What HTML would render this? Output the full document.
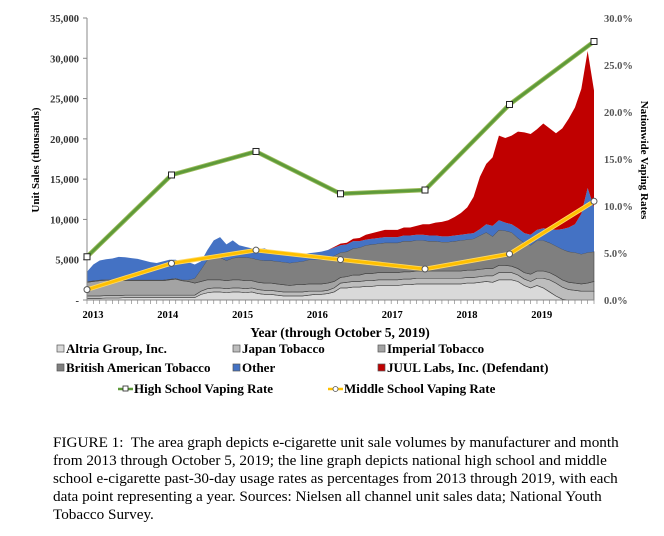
<!DOCTYPE html>
<html><head><meta charset="utf-8">
<style>
body{margin:0;background:#fff;width:664px;height:536px;overflow:hidden;font-family:"Liberation Serif",serif;}
svg text{font-family:"Liberation Serif",serif;}
.cap{position:absolute;left:53px;top:434px;width:620px;font-size:15.2px;line-height:18px;color:#000;white-space:nowrap;}
</style></head><body>
<svg width="664" height="536" style="position:absolute;left:0;top:0">
<g id="areas"></g>
<g id="axes"></g>
<g id="lines"></g>
<g id="legend"></g>
</svg>
<div class="cap">FIGURE 1:&nbsp; The area graph depicts e-cigarette unit sale volumes by manufacturer and month<br>from 2013 through October 5, 2019; the line graph depicts national high school and middle<br>school e-cigarette past-30-day usage rates as percentages from 2013 through 2019, with each<br>data point representing a year. Sources: Nielsen all channel unit sales data; National Youth<br>Tobacco Survey.</div>
<script>
const seriesNames=["Altria Group, Inc.","Japan Tobacco","Imperial Tobacco","British American Tobacco","Other","JUUL Labs, Inc. (Defendant)"];
const altria=[200,200,200,250,250,250,300,300,300,300,300,300, 300,300,300,300,300,300,700,900,1000,1000,900,1000, 1000,900,1000,800,700,700,600,500,500,500,500,600, 700,700,800,1000,1500,1500,1600,1600,1700,1700,1800,1800, 1800,1800,1900,1900,2000,2000,2000,2000,2000,2000,2000,2000, 2100,2100,2200,2300,2200,2500,2500,2500,2300,1800,1500,1800, 1500,1000,500,100,0,0,0,0,0];
const japan=[300,300,300,300,300,300,300,300,300,300,300,300, 300,300,300,300,300,300,400,500,500,500,500,500, 500,500,500,500,500,500,500,500,500,500,500,500, 400,400,400,500,600,700,700,700,700,700,700,700, 700,700,700,700,700,700,700,700,700,700,700,700, 700,700,700,700,800,900,900,900,800,800,800,900, 1200,1500,1600,1500,1300,1200,1100,1100,1100];
const imperial=[1700,1800,1900,1900,1900,1900,1800,1800,1800,1800,1800,1800, 1800,1900,2000,1800,1700,1500,1200,1100,1000,1000,1000,1000, 1000,1000,900,900,900,900,900,900,800,900,900,900, 900,900,900,800,700,700,800,800,900,900,900,900, 900,900,900,900,900,900,900,900,900,900,900,900, 900,900,900,900,900,900,900,800,800,800,900,900, 900,900,900,900,900,900,900,1000,1200];
const bat=[100,100,100,100,100,100,100,100,100,100,100,100, 100,100,100,100,200,600,1500,2500,3000,2800,2500,2700, 2800,2900,2800,2800,2800,2800,2800,2800,2800,2800,2900,3000, 3000,3000,3100,3200,3100,3100,3300,3400,3500,3600,3600,3700, 3700,3700,3800,3800,3800,3800,3700,3700,3600,3600,3700,3800, 3800,3900,4200,4500,4000,4400,4300,4200,3800,3700,3600,3800, 3800,3700,3700,3800,3800,3800,3700,3800,3700];
const other=[1200,2000,2400,2500,2600,2800,2800,2700,2600,2400,2200,2100, 2300,2400,2300,2200,2200,1700,1000,1200,1900,2500,2000,2200, 1500,1300,1200,1300,1500,1200,1000,900,1000,1000,900,800, 900,1000,1000,1000,900,900,900,800,700,700,700,700, 700,700,700,700,700,700,700,700,700,700,700,700, 700,700,800,1000,1300,1200,1000,1000,1200,1200,1300,1300, 1500,1700,2000,2500,3000,3500,5000,8000,5500];
const juul=[0,0,0,0,0,0,0,0,0,0,0,0, 0,0,0,0,0,0,0,0,0,0,0,0, 0,0,0,0,0,0,0,0,0,0,0,0, 0,0,0,100,200,200,300,400,600,700,800,900, 900,900,1000,1000,1100,1300,1400,1600,1800,2000,2300,2700, 3300,4500,6500,7500,8500,10500,10500,11000,12000,12500,12500,12500, 13000,12500,12000,12500,13500,14500,15500,17000,14500];
const rateYears=[2013,2014,2015,2016,2017,2018,2019];
const highSchool=[4.6,13.3,15.8,11.3,11.7,20.8,27.5];
const middleSchool=[1.1,3.9,5.3,4.3,3.3,4.9,10.5];
const leftTicks=["-","5,000","10,000","15,000","20,000","25,000","30,000","35,000"];
const rightTicks=["0.0%","5.0%","10.0%","15.0%","20.0%","25.0%","30.0%"];
const yearLabels=["2013","2014","2015","2016","2017","2018","2019"];

const NS="http://www.w3.org/2000/svg";
const X0=87,X1=594,Y0=300,Y1=18;
const nM=altria.length;
const xm=i=>X0+i*(X1-X0)/(nM-1);
const yv=v=>Y0-(v/35000)*(Y0-Y1);
const yp=p=>Y0-(p/30)*(Y0-Y1);
const xr=i=>X0+i*(X1-X0)/(rateYears.length-1);
function mk(t,a,p){const e=document.createElementNS(NS,t);for(const k in a)e.setAttribute(k,a[k]);p.appendChild(e);return e;}

const layers=[altria,japan,imperial,bat,other,juul];
const colors=["#d9d9d9","#bdbdbd","#a3a3a3","#7f7f7f","#4472c4","#c00000"];
const names=["area-altria","area-japan-tobacco","area-imperial","area-bat","area-other","area-juul"];
const areas=document.getElementById('areas');
let base=new Array(nM).fill(0);
layers.forEach((L,k)=>{
  const top=base.map((b,i)=>b+L[i]);
  let d="M"+xm(0)+","+yv(top[0]);
  for(let i=1;i<nM;i++)d+="L"+xm(i).toFixed(2)+","+yv(top[i]).toFixed(2);
  for(let i=nM-1;i>=0;i--)d+="L"+xm(i).toFixed(2)+","+yv(base[i]).toFixed(2);
  const p=mk('path',{d:d+"Z",fill:colors[k],stroke:k<4?"#404040":"none","stroke-width":k<4?0.6:0},areas);
  
  
  base=top;
});

const ax=document.getElementById('axes');
mk('line',{x1:X0,y1:Y0,x2:X1,y2:Y0,stroke:"#888","stroke-width":1},ax);
for(let i=0;i<nM;i++)mk('line',{x1:xm(i),y1:Y0,x2:xm(i),y2:Y0+4,stroke:"#888","stroke-width":0.7},ax);
mk('line',{x1:X0,y1:Y1,x2:X0,y2:Y0,stroke:"#888","stroke-width":1},ax);
leftTicks.forEach((t,i)=>{
  const y=yv(i*5000);
  mk('line',{x1:X0-4,y1:y,x2:X0,y2:y,stroke:"#888"},ax);
  const e=mk('text',{x:X0-8,y:y+4,"text-anchor":"end","font-size":"10.5","font-weight":"bold",fill:"#333"},ax);e.textContent=t;
  
  
});
rightTicks.forEach((t,i)=>{
  const y=yp(i*5);
  const e=mk('text',{x:604,y:y+4,"font-size":"10.5","font-weight":"bold",fill:"#555"},ax);e.textContent=t;
  
  
});
yearLabels.forEach((t,i)=>{
  const e=mk('text',{x:93+i*74.8,y:318,"text-anchor":"middle","font-size":"10.5","font-weight":"bold",fill:"#000"},ax);e.textContent=t;
  
  
});
let e=mk('text',{x:340,y:337,"text-anchor":"middle","font-size":"13.5","font-weight":"bold"},ax);e.textContent="Year (through October 5, 2019)";


e=mk('text',{x:0,y:0,"text-anchor":"middle","font-size":"11","font-weight":"bold",transform:"translate(39,160) rotate(-90)"},ax);e.textContent="Unit Sales (thousands)";


e=mk('text',{x:0,y:0,"text-anchor":"middle","font-size":"11","font-weight":"bold",transform:"translate(641,160) rotate(90)"},ax);e.textContent="Nationwide Vaping Rates";



const ln=document.getElementById('lines');
function drawLine(vals,col,edge,square,nm){
  const pts=vals.map((v,i)=>xr(i)+","+yp(v)).join(" ");
  mk('polyline',{points:pts,fill:"none",stroke:edge,"stroke-width":4.5,"stroke-linejoin":"round"},ln);
  const pl=mk('polyline',{points:pts,fill:"none",stroke:col,"stroke-width":2.8,"stroke-linejoin":"round"},ln);
  
  
  vals.forEach((v,i)=>{
    const m=square?mk('rect',{x:xr(i)-3,y:yp(v)-3,width:6,height:6,fill:"#fff",stroke:"#222","stroke-width":1},ln)
                  :mk('circle',{cx:xr(i),cy:yp(v),r:3,fill:"#fff",stroke:"#555","stroke-width":1},ln);
    
    
  });
}
drawLine(highSchool,"#5e9a3a","#9bbb59",true,"high-school-line");
drawLine(middleSchool,"#ffc000","#ffd966",false,"middle-school-line");

const lg=document.getElementById('legend');
const items=[[57,353,0],[233,353,1],[378,353,2],[57,372,3],[233,372,4],[378,372,5]];
items.forEach(([x,y,k])=>{
  const r=mk('rect',{x:x,y:y-8,width:7,height:7,fill:colors[k],stroke:"#555","stroke-width":0.7},lg);
  
  
  const t=mk('text',{x:x+9,y:y,"font-size":"13","font-weight":"bold"},lg);t.textContent=seriesNames[k];
  
  
});
[[118,"#5e9a3a",true,"High School Vaping Rate"],[328,"#ffc000",false,"Middle School Vaping Rate"]].forEach(([x,c,sq,label])=>{
  mk('line',{x1:x,y1:389,x2:x+15,y2:389,stroke:c,"stroke-width":2.5},lg);
  if(sq)mk('rect',{x:x+5,y:386,width:5,height:5,fill:"#fff",stroke:"#222","stroke-width":0.8},lg);
  else mk('circle',{cx:x+7.5,cy:389,r:2.5,fill:"#fff",stroke:"#555","stroke-width":0.8},lg);
  const t=mk('text',{x:x+16,y:393,"font-size":"13","font-weight":"bold"},lg);t.textContent=label;
  
  
});
</script>
</body></html>
